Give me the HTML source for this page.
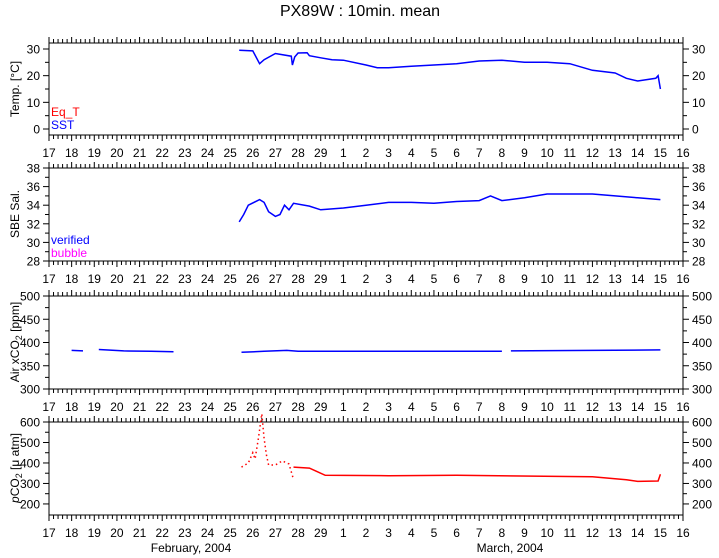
<!DOCTYPE html><html><head><style>body{margin:0;background:#fff}svg{display:block}text{font-family:"Liberation Sans",sans-serif;font-size:12px;fill:#000}</style></head><body>
<svg id="s" width="719" height="558" xmlns="http://www.w3.org/2000/svg"></svg>
<script>
const s=document.getElementById('s');let h='';
const L=49,R=683,dx=(R-L)/28;
const X=d=>L+d*dx;
h+='<text x="360" y="16" text-anchor="middle" style="font-size:16px">PX89W : 10min. mean</text>';
const days=[];for(let i=17;i<=29;i++)days.push(i);for(let i=1;i<=16;i++)days.push(i);
const P=[
 {t:43,b:135,lo:-2.25,hi:32.25,ticks:[0,10,20,30],lab:'Temp. [°C]'},
 {t:168,b:261,lo:28,hi:38,ticks:[28,30,32,34,36,38],lab:'SBE Sal.'},
 {t:296,b:389,lo:300,hi:500,ticks:[300,350,400,450,500],lab:'Air xCO2'},
 {t:422,b:515,lo:146,hi:600,ticks:[200,300,400,500,600],lab:'pCO2'}];
P.forEach((p,k)=>{
 const Y=v=>p.b-(v-p.lo)/(p.hi-p.lo)*(p.b-p.t);p.Y=Y;
 h+=`<rect x="${L}" y="${p.t}" width="${R-L}" height="${p.b-p.t}" fill="none" stroke="#000"/>`;
 for(let i=0;i<=28*5;i++){const x=X(i/5),m=i%5==0;h+=`<line x1="${x}" x2="${x}" y1="${p.t}" y2="${p.t-(m?6:4)}" stroke="#000"/><line x1="${x}" x2="${x}" y1="${p.b}" y2="${p.b+(m?6:4)}" stroke="#000"/>`;}
 days.forEach((d,i)=>h+=`<text x="${X(i)}" y="${p.b+22}" text-anchor="middle">${d}</text>`);
 const st=p.ticks[1]-p.ticks[0];
 for(let v=p.ticks[0]-st/2*(k==0?0:0);v<=p.hi;v+=st/2){if(v<p.lo)continue;const y=Y(v),m=p.ticks.includes(v);h+=`<line x1="${L}" x2="${L-(m?6:4)}" y1="${y}" y2="${y}" stroke="#000"/><line x1="${R}" x2="${R+(m?6:4)}" y1="${y}" y2="${y}" stroke="#000"/>`;}
 p.ticks.forEach(v=>{const y=Y(v)+4.5;h+=`<text x="${L-9}" y="${y}" text-anchor="end">${v}</text><text x="${R+9}" y="${y}">${v}</text>`;});
});
function line(p,pts,c,extra){let d=pts.map((q,i)=>(i?'L':'M')+X(q[0]-17).toFixed(1)+' '+p.Y(q[1]).toFixed(1)).join('');h+=`<path d="${d}" fill="none" stroke="${c}" stroke-width="1.5" ${extra||''}/>`;}
const m=v=>v+13-1+17; // march day -> index+17 (Mar1 => 29)
line(P[0],[[25.4,29.5],[26,29.3],[26.3,24.5],[26.5,26],[27,28.3],[27.7,27.3],[27.75,24],[27.85,27],[28,28.5],[28.4,28.6],[28.5,27.5],[29,26.7],[29.5,26],[m(1),25.8],[m(2),24],[m(2.5),23],[m(3),23],[m(4),23.5],[m(5),24],[m(6),24.5],[m(7),25.5],[m(8),25.8],[m(9),25],[m(10),25],[m(11),24.5],[m(12),22],[m(13),21],[m(13.5),19],[m(14),18],[m(14.8),19],[m(14.9),20],[m(15),15]],'#00f');
line(P[1],[[25.4,32.2],[25.6,33],[25.8,34],[26.3,34.6],[26.5,34.3],[26.7,33.3],[27,32.8],[27.2,33],[27.4,34],[27.6,33.5],[27.8,34.2],[28.5,33.9],[29,33.5],[m(1),33.7],[m(2),34],[m(3),34.3],[m(4),34.3],[m(5),34.2],[m(6),34.4],[m(7),34.5],[m(7.5),35],[m(8),34.5],[m(9),34.8],[m(10),35.2],[m(11),35.2],[m(12),35.2],[m(13),35],[m(14),34.8],[m(15),34.6]],'#00f');
line(P[2],[[18,383],[18.5,382]],'#00f');line(P[2],[[19.2,385],[20.3,382],[21.5,381],[22.5,380]],'#00f');
line(P[2],[[25.5,379],[26.5,381],[27.5,383],[28,381],[m(1),381],[m(8),381]],'#00f');line(P[2],[[m(8.4),382],[m(12),383],[m(15),384]],'#00f');
line(P[3],[[25.5,380],[25.8,400],[26,450],[26.1,420],[26.25,520],[26.4,640],[26.5,520],[26.6,440],[26.7,390],[27,390],[27.3,410],[27.6,395],[27.8,320]],'#f00','stroke-dasharray="1.5 3"');
line(P[3],[[27.8,380],[28.5,375],[28.8,360],[29.2,340],[m(3),338],[m(6),340],[m(12),333],[m(13.5),318],[m(14),310],[m(14.9),312],[m(15),345]],'#f00');
h+='<text x="51" y="116" style="fill:#f00">Eq_T</text><text x="51" y="129" style="fill:#00f">SST</text>';
h+='<text x="51" y="244" style="fill:#00f">verified</text><text x="51" y="257" style="fill:#f0f">bubble</text>';
const yl=(y,t)=>h+=`<text transform="translate(19,${y}) rotate(-90)" text-anchor="middle">${t}</text>`;
yl(89,'Temp. [°C]');yl(214,'SBE Sal.');yl(342,'Air xCO<tspan dy="3" style="font-size:9px">2</tspan><tspan dy="-3"> [ppm]</tspan>');
yl(468,'<tspan style="font-style:italic">p</tspan>CO<tspan dy="3" style="font-size:9px">2</tspan><tspan dy="-3"> [μ atm]</tspan>');
h+='<text x="191" y="552" text-anchor="middle">February, 2004</text><text x="510" y="552" text-anchor="middle">March, 2004</text>';
s.innerHTML=h;
</script></body></html>
